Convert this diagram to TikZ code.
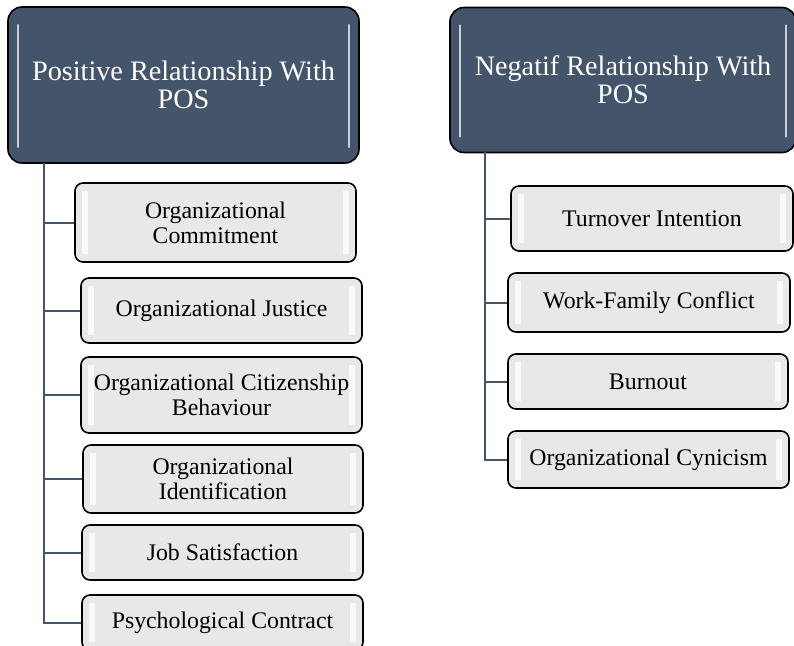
\documentclass[tikz,border=0pt]{standalone}
\usepackage{fontspec}
\setmainfont{Liberation Serif}
\usepackage{tikz}
\usetikzlibrary{positioning}
\definecolor{headblue}{RGB}{68,84,106}
\definecolor{itemgray}{RGB}{232,232,232}

\begin{document}
\begin{tikzpicture}[
  x=0.5pt,y=-0.5pt,
  headbox/.style={draw=black,thick,rounded corners=7pt,fill=headblue,text=white,align=center,
    font=\fontsize{14.1pt}{14pt}\selectfont,inner sep=0pt,
    path picture={
      \draw[line width=1.2pt,white!72!headblue,line cap=round]
        ([xshift=5pt,yshift=-9pt]path picture bounding box.north west) -- ([xshift=5pt,yshift=8pt]path picture bounding box.south west);
      \draw[line width=1.2pt,white!72!headblue,line cap=round]
        ([xshift=-5pt,yshift=-9pt]path picture bounding box.north east) -- ([xshift=-5pt,yshift=8pt]path picture bounding box.south east);
    }},
  itembox/.style={draw=black,thick,rounded corners=4pt,fill=itemgray,align=center,
    font=\fontsize{11.9pt}{12.6pt}\selectfont,inner sep=0pt,minimum width=140.5pt,
    path picture={
      \draw[line width=3pt,white,opacity=0.75]
        ([xshift=5pt,yshift=-4pt]path picture bounding box.north west) -- ([xshift=5pt,yshift=4pt]path picture bounding box.south west);
      \draw[line width=3pt,white,opacity=0.75]
        ([xshift=-5pt,yshift=-4pt]path picture bounding box.north east) -- ([xshift=-5pt,yshift=4pt]path picture bounding box.south east);
    }},
  link/.style={draw=headblue,line width=1pt}
]
  \useasboundingbox (0,0) rectangle (794,645);

  % positive side
  \node[headbox,minimum width=175.5pt,minimum height=78pt] (poshead) at (183.5,85) {Positive Relationship With\\POS};
  \node[itembox,minimum height=39.5pt] (commit) at (215.5,222.5) {Organizational\\Commitment};
  \node[itembox,minimum height=32.5pt] (justice) at (221.5,310.5) {Organizational Justice};
  \node[itembox,minimum height=38pt] (ocb) at (221.5,395) {Organizational Citizenship\\Behaviour};
  \node[itembox,minimum height=34pt,minimum width=140pt] (ident) at (223,479) {Organizational\\Identification};
  \node[itembox,minimum height=27.5pt] (jobsat) at (222.5,552.5) {Job Satisfaction};
  \node[itembox,minimum height=27.5pt] (psych) at (222.5,622.5) {Psychological Contract};

  % negative side
  \node[headbox,minimum width=173pt,minimum height=72.5pt] (neghead) at (623,80) {Negatif Relationship With\\POS};
  \node[itembox,minimum height=32.5pt,minimum width=141pt] (turnover) at (652,218.5) {Turnover Intention};
  \node[itembox,minimum height=29.5pt,minimum width=141pt] (wfc) at (649,302.5) {Work-Family Conflict};
  \node[itembox,minimum height=27.5pt,minimum width=140pt] (burnout) at (648,381.5) {Burnout};
  \node[itembox,minimum height=28.5pt] (cynic) at (648.5,459.5) {Organizational Cynicism};

  \coordinate (postrunk) at (44,163);
  \coordinate (negtrunk) at (485,152);

  \foreach \n in {commit,justice,ocb,ident,jobsat,psych}
    \draw[link] (postrunk) |- (\n.west);
  \foreach \n in {turnover,wfc,burnout,cynic}
    \draw[link] (negtrunk) |- (\n.west);
\end{tikzpicture}
\end{document}
